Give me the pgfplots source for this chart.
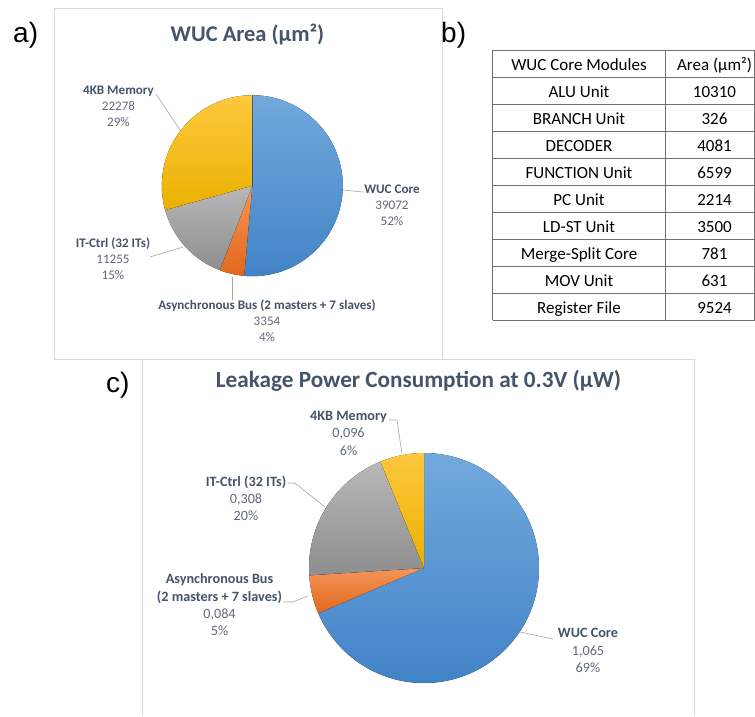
\documentclass[border=0pt]{standalone}
\usepackage{pgfplots}
\pgfplotsset{compat=1.18}
\usepackage{pgfplotstable}
\usepackage{fontspec}
\setmainfont{Carlito}
\newfontfamily\arialf{Liberation Sans}
\definecolor{ttl}{HTML}{44546A}
\definecolor{lbl}{HTML}{44546A}
\definecolor{num}{HTML}{5F6B7C}
\definecolor{frm}{HTML}{D9D9D9}
\definecolor{ldr}{HTML}{A6A6A6}
\definecolor{tbl}{HTML}{6F6F6F}
\definecolor{blueT}{HTML}{72A9DD}
\definecolor{blueB}{HTML}{4283C7}
\definecolor{orT}{HTML}{F5955B}
\definecolor{orB}{HTML}{E2681A}
\definecolor{grT}{HTML}{B8B8B8}
\definecolor{grB}{HTML}{8E8E8E}
\definecolor{goT}{HTML}{FFC83E}
\definecolor{goB}{HTML}{E9B100}

\tikzset{
  lba/.style={font=\fontsize{13.1}{15}\selectfont\bfseries, text=lbl, anchor=base, inner sep=0pt},
  nma/.style={font=\fontsize{13.1}{15}\selectfont, text=num, anchor=base, inner sep=0pt},
  lbc/.style={font=\fontsize{14.2}{16}\selectfont\bfseries, text=lbl, anchor=base, inner sep=0pt},
  nmc/.style={font=\fontsize{14.2}{16}\selectfont, text=num, anchor=base, inner sep=0pt},
  tb/.style={font=\fontsize{17}{19}\selectfont, text=black, anchor=base, inner sep=0pt},
  pl/.style={font=\arialf\fontsize{28}{30}\selectfont, text=black, anchor=base west, inner sep=0pt},
  ld/.style={draw=ldr, line width=0.6pt},
  tl/.style={draw=tbl, line width=1pt},
}

% a) WUC area (um^2): WUC Core, Async Bus, IT-Ctrl, 4KB Memory
\pgfplotstableread{
val
39072
3354
11255
22278
}\areatbl
% c) leakage power at 0.3V (uW): same order
\pgfplotstableread{
val
1.065
0.084
0.308
0.096
}\leaktbl

\newcommand\computepie[2]{%
  \def\pietot{0}%
  \pgfplotsforeachungrouped \pieidx in {0,...,3}{%
    \pgfplotstablegetelem{\pieidx}{val}\of#1%
    \edef\pietot{\fpeval{\pietot+\pgfplotsretval}}}%
  \def\piecum{0}%
  \pgfplotsforeachungrouped \pieidx in {0,...,3}{%
    \pgfplotstablegetelem{\pieidx}{val}\of#1%
    \expandafter\xdef\csname #2s\pieidx\endcsname{\fpeval{90-360*\piecum/\pietot}}%
    \edef\piecum{\fpeval{\piecum+\pgfplotsretval}}%
    \expandafter\xdef\csname #2e\pieidx\endcsname{\fpeval{90-360*\piecum/\pietot}}}%
}
\computepie{\areatbl}{a}
\computepie{\leaktbl}{c}

\newcommand\pwedge[7]{%
  \fill[top color=#6,bottom color=#7] (axis cs:#1,#2) -- ++(canvas polar cs:angle=\csname #4s#5\endcsname,radius=#3pt)
   arc[start angle=\csname #4s#5\endcsname,end angle=\csname #4e#5\endcsname,radius=#3pt] -- cycle;}

\begin{document}
\begin{tikzpicture}
\begin{axis}[scale only axis, width=755pt, height=716pt,
  xmin=0, xmax=755, ymin=0, ymax=716, y dir=reverse, hide axis, clip=false]
\fill[white] (axis cs:0,0) rectangle (axis cs:755,716);
% frames
\draw[frm, line width=0.8pt] (axis cs:54,8) rectangle (axis cs:442,359);
\fill[white] (axis cs:142,359.5) rectangle (axis cs:694,716);
\draw[frm, line width=0.8pt] (axis cs:142,716) -- (axis cs:142,359) -- (axis cs:694,359) -- (axis cs:694,716);

% panel letters
\node[pl] at (axis cs:13,42.5) {a)};
\node[pl] at (axis cs:441,42) {b)};
\node[pl] at (axis cs:106,392.5) {c)};

% ---- a) pie
\node[font=\fontsize{22.5}{26}\selectfont\bfseries, text=ttl, anchor=base, inner sep=0pt] at (axis cs:247.5,41) {WUC Area (µm²)};
\pwedge{252.3}{185.7}{90.5}{a}{0}{blueT}{blueB}
\pwedge{252.3}{185.7}{90.5}{a}{1}{orT}{orB}
\pwedge{252.3}{185.7}{90.5}{a}{2}{grT}{grB}
\pwedge{252.3}{185.7}{90.5}{a}{3}{goT}{goB}
\draw[ld] (axis cs:156,94) -- (axis cs:180,130);
\draw[ld] (axis cs:343,190) -- (axis cs:363,192);
\draw[ld] (axis cs:150,257) -- (axis cs:183,247);
\draw[ld] (axis cs:232,277) -- (axis cs:232,300);
\node[lba] at (axis cs:118.5,94) {4KB Memory};
\node[nma] at (axis cs:118.5,110) {22278};
\node[nma] at (axis cs:118.5,126) {29\%};
\node[lba] at (axis cs:392,193) {WUC Core};
\node[nma] at (axis cs:392,209) {39072};
\node[nma] at (axis cs:392,225) {52\%};
\node[lba] at (axis cs:113,247) {IT-Ctrl (32 ITs)};
\node[nma] at (axis cs:113,263) {11255};
\node[nma] at (axis cs:113,279) {15\%};
\node[lba] at (axis cs:267,309) {Asynchronous Bus (2 masters + 7 slaves)};
\node[nma] at (axis cs:267,325) {3354};
\node[nma] at (axis cs:267,341) {4\%};

% ---- b) table
\draw[tl] (axis cs:492.7,50) -- (axis cs:754.6,50);
\draw[tl] (axis cs:492.7,77) -- (axis cs:754.6,77);
\draw[tl] (axis cs:492.7,104) -- (axis cs:754.6,104);
\draw[tl] (axis cs:492.7,131) -- (axis cs:754.6,131);
\draw[tl] (axis cs:492.7,158) -- (axis cs:754.6,158);
\draw[tl] (axis cs:492.7,185) -- (axis cs:754.6,185);
\draw[tl] (axis cs:492.7,212) -- (axis cs:754.6,212);
\draw[tl] (axis cs:492.7,239) -- (axis cs:754.6,239);
\draw[tl] (axis cs:492.7,266) -- (axis cs:754.6,266);
\draw[tl] (axis cs:492.7,293) -- (axis cs:754.6,293);
\draw[tl] (axis cs:492.7,320) -- (axis cs:754.6,320);
\draw[tl] (axis cs:492.7,50) -- (axis cs:492.7,320);
\draw[tl] (axis cs:665.7,50) -- (axis cs:665.7,320);
\draw[tl] (axis cs:754.6,50) -- (axis cs:754.6,320);
\node[tb] at (axis cs:579,70) {WUC Core Modules};
\node[tb] at (axis cs:714.5,70) {Area (µm²)};
\node[tb] at (axis cs:579,97) {ALU Unit};          \node[tb] at (axis cs:714.5,97) {10310};
\node[tb] at (axis cs:579,124) {BRANCH Unit};      \node[tb] at (axis cs:714.5,124) {326};
\node[tb] at (axis cs:579,151) {DECODER};          \node[tb] at (axis cs:714.5,151) {4081};
\node[tb] at (axis cs:579,178) {FUNCTION Unit};    \node[tb] at (axis cs:714.5,178) {6599};
\node[tb] at (axis cs:579,205) {PC Unit};          \node[tb] at (axis cs:714.5,205) {2214};
\node[tb] at (axis cs:579,232) {LD-ST Unit};       \node[tb] at (axis cs:714.5,232) {3500};
\node[tb] at (axis cs:579,259) {Merge-Split Core}; \node[tb] at (axis cs:714.5,259) {781};
\node[tb] at (axis cs:579,286) {MOV Unit};         \node[tb] at (axis cs:714.5,286) {631};
\node[tb] at (axis cs:579,313) {Register File};    \node[tb] at (axis cs:714.5,313) {9524};

% ---- c) pie
\node[font=\fontsize{23.2}{26}\selectfont\bfseries, text=ttl, anchor=base, inner sep=0pt] at (axis cs:418.5,387) {Leakage Power Consumption at 0.3V (µW)};
\pwedge{424}{568}{115}{c}{0}{blueT}{blueB}
\pwedge{424}{568}{115}{c}{1}{orT}{orB}
\pwedge{424}{568}{115}{c}{2}{grT}{grB}
\pwedge{424}{568}{115}{c}{3}{goT}{goB}
\draw[ld] (axis cs:389,420) -- (axis cs:397,420) -- (axis cs:402,454);
\draw[ld] (axis cs:288,483) -- (axis cs:295,483) -- (axis cs:325,507);
\draw[ld] (axis cs:283,602) -- (axis cs:293,602) -- (axis cs:308,596);
\draw[ld] (axis cs:520,632) -- (axis cs:553,639);
\node[lbc] at (axis cs:348.5,420) {4KB Memory};
\node[nmc] at (axis cs:348.5,437.5) {0,096};
\node[nmc] at (axis cs:348.5,455) {6\%};
\node[lbc] at (axis cs:246,486.5) {IT-Ctrl (32 ITs)};
\node[nmc] at (axis cs:246,503) {0,308};
\node[nmc] at (axis cs:246,520) {20\%};
\node[lbc] at (axis cs:219.5,583.5) {Asynchronous Bus};
\node[lbc] at (axis cs:219.5,601) {(2 masters + 7 slaves)};
\node[nmc] at (axis cs:219.5,618) {0,084};
\node[nmc] at (axis cs:219.5,635.5) {5\%};
\node[lbc] at (axis cs:588,637.5) {WUC Core};
\node[nmc] at (axis cs:588,655) {1,065};
\node[nmc] at (axis cs:588,672.5) {69\%};
\end{axis}
\pgfresetboundingbox
\useasboundingbox (current axis.south west) rectangle (current axis.north east);
\end{tikzpicture}
\end{document}
